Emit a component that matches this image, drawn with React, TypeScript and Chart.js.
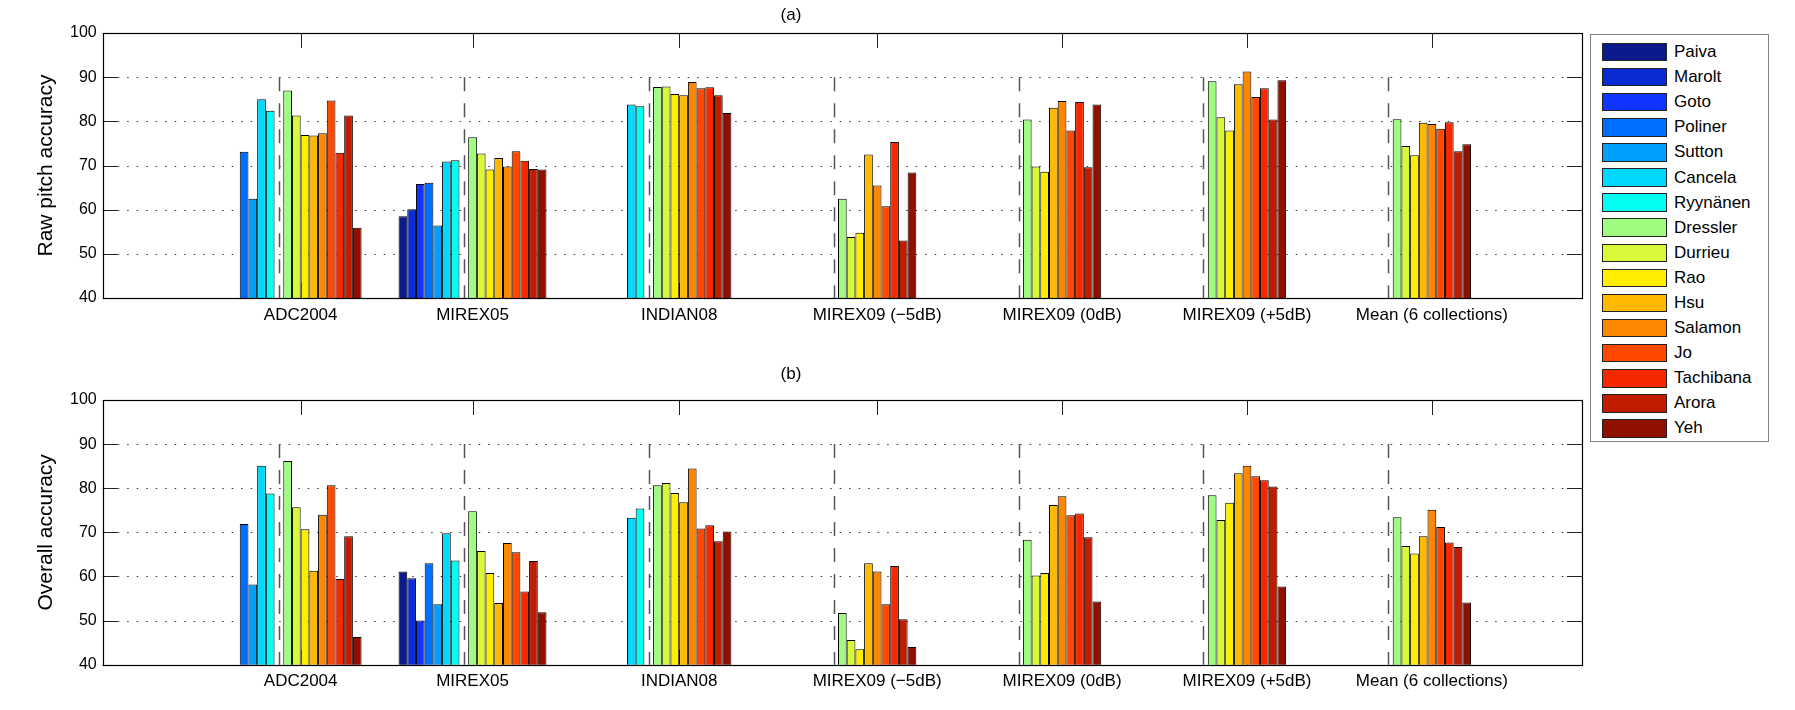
import React, { useEffect, useRef } from "react";
import { Chart, registerables } from "chart.js";

Chart.register(...registerables);
Chart.defaults.font.family = "'Liberation Sans', Arial, Helvetica, sans-serif";
Chart.defaults.color = "#000";

// collections (x groups)
const collections = [
  "ADC2004",
  "MIREX05",
  "INDIAN08",
  "MIREX09 (\u22125dB)",
  "MIREX09 (0dB)",
  "MIREX09 (+5dB)",
  "Mean (6 collections)",
];

const algorithms = [
  "Paiva", "Marolt", "Goto", "Poliner", "Sutton", "Cancela", "Ryynänen",
  "Dressler", "Durrieu", "Rao", "Hsu", "Salamon", "Jo", "Tachibana", "Arora", "Yeh",
];

const algorithmColors = [
  "#0b1b8e", "#0a2ad2", "#1034ff", "#006eff", "#00a0ff", "#00d8ff", "#00fff0",
  "#a0fc80", "#d8f83a", "#ffee00", "#ffba00", "#ff8700", "#ff4800", "#f52800", "#c01c00", "#901000",
];

const yTicks = [40, 50, 60, 70, 80, 90, 100];

// rows follow algorithms, columns follow collections
const rawPitch: (number | null)[][] = [
  [null, 58.5, null, null, null, null, null],
  [null, 60.1, null, null, null, null, null],
  [null, 65.8, null, null, null, null, null],
  [73.1, 66.1, null, null, null, null, null],
  [62.5, 56.4, null, null, null, null, null],
  [85.0, 70.9, 83.8, null, null, null, null],
  [82.4, 71.2, 83.4, null, null, null, null],
  [87.0, 76.4, 87.8, 62.5, 80.4, 89.1, 80.5],
  [81.3, 72.7, 87.9, 53.8, 69.8, 80.9, 74.4],
  [76.9, 69.1, 86.2, 54.8, 68.6, 77.9, 72.3],
  [76.8, 71.7, 85.9, 72.5, 83.1, 88.4, 79.7],
  [77.3, 69.8, 88.9, 65.5, 84.6, 91.3, 79.4],
  [84.7, 73.2, 87.5, 60.8, 77.9, 85.5, 78.3],
  [72.9, 71.1, 87.7, 75.3, 84.4, 87.5, 79.8],
  [81.3, 69.2, 85.9, 53.0, 69.6, 80.4, 73.2],
  [55.9, 69.1, 81.9, 68.4, 83.8, 89.3, 74.8],
];

const overallAccuracy: (number | null)[][] = [
  [null, 61.1, null, null, null, null, null],
  [null, 59.6, null, null, null, null, null],
  [null, 50.0, null, null, null, null, null],
  [71.9, 63.0, null, null, null, null, null],
  [58.2, 53.7, null, null, null, null, null],
  [85.1, 69.8, 73.3, null, null, null, null],
  [78.8, 63.6, 75.4, null, null, null, null],
  [86.2, 74.8, 80.7, 51.7, 68.3, 78.4, 73.4],
  [75.7, 65.8, 81.2, 45.6, 60.2, 72.8, 66.9],
  [70.7, 60.8, 78.9, 43.5, 60.8, 76.7, 65.2],
  [61.3, 54.0, 76.8, 63.0, 76.2, 83.4, 69.1],
  [74.0, 67.6, 84.5, 61.1, 78.2, 85.1, 75.1],
  [80.7, 65.5, 70.9, 53.7, 73.9, 82.7, 71.2],
  [59.4, 56.6, 71.6, 62.4, 74.3, 81.8, 67.7],
  [69.1, 63.5, 68.0, 50.3, 68.9, 80.4, 66.7],
  [46.3, 51.9, 70.2, 44.0, 54.3, 57.7, 54.1],
];

// empty slot between the older and the 2009 algorithms
const GAP = algorithms.indexOf("Dressler");

const pad = (row: (number | null)[]) => [null, ...row, null];

function buildDatasets(values: (number | null)[][]) {
  const ds: any[] = algorithms.map((name, i) => ({
    label: name,
    data: pad(values[i]),
    backgroundColor: algorithmColors[i],
    borderColor: "#000",
    borderWidth: 1,
  }));
  ds.splice(GAP, 0, {
    label: "",
    data: pad(collections.map(() => null)),
    backgroundColor: "transparent",
    borderWidth: 0,
  });
  return ds;
}

function groupCenters(chart: Chart) {
  return collections.map((_, c) => {
    const j = c + 1;
    let lo = Infinity;
    let hi = -Infinity;
    chart.data.datasets.forEach((ds, d) => {
      if (d === GAP || ds.data[j] == null) return;
      const el: any = chart.getDatasetMeta(d).data[j];
      const { x, width } = el.getProps(["x", "width"], true);
      lo = Math.min(lo, x - width / 2);
      hi = Math.max(hi, x + width / 2);
    });
    return (lo + hi) / 2;
  });
}

const TICK = 15;

const framePlugin = {
  id: "frame",
  beforeDatasetsDraw(chart: Chart) {
    const { ctx, chartArea } = chart;
    const { left, right, top, bottom } = chartArea;
    const y = chart.scales.y;
    ctx.save();
    // dotted grid
    ctx.strokeStyle = "#333";
    ctx.lineWidth = 1;
    ctx.setLineDash([1.5, 8]);
    yTicks.slice(1, -1).forEach((v) => {
      const py = Math.round(y.getPixelForValue(v)) + 0.5;
      ctx.beginPath();
      ctx.moveTo(left + TICK, py);
      ctx.lineTo(right - TICK, py);
      ctx.stroke();
    });
    // dashed separators
    ctx.strokeStyle = "#555";
    ctx.lineWidth = 1.5;
    ctx.setLineDash([14, 12]);
    const gapMeta = chart.getDatasetMeta(GAP);
    collections.forEach((_, c) => {
      const el: any = gapMeta.data[c + 1];
      const px = Math.round(el.x) + 0.5;
      ctx.beginPath();
      ctx.moveTo(px, y.getPixelForValue(90));
      ctx.lineTo(px, y.getPixelForValue(40));
      ctx.stroke();
    });
    // ticks
    ctx.setLineDash([]);
    ctx.strokeStyle = "#222";
    ctx.lineWidth = 1;
    yTicks.forEach((v) => {
      const py = Math.round(y.getPixelForValue(v)) + 0.5;
      ctx.beginPath();
      ctx.moveTo(left, py);
      ctx.lineTo(left + TICK, py);
      ctx.moveTo(right, py);
      ctx.lineTo(right - TICK, py);
      ctx.stroke();
    });
    groupCenters(chart).forEach((cx) => {
      const px = Math.round(cx) + 0.5;
      ctx.beginPath();
      ctx.moveTo(px, top);
      ctx.lineTo(px, top + TICK);
      ctx.moveTo(px, bottom);
      ctx.lineTo(px, bottom - TICK);
      ctx.stroke();
    });
    ctx.restore();
  },
  afterDatasetsDraw(chart: Chart) {
    const { ctx, chartArea } = chart;
    const { left, right, top, bottom } = chartArea;
    ctx.save();
    ctx.strokeStyle = "#000";
    ctx.lineWidth = 1.2;
    ctx.strokeRect(Math.round(left) + 0.5, Math.round(top) + 0.5, Math.round(right - left), Math.round(bottom - top));
    ctx.fillStyle = "#000";
    ctx.font = "17px 'Liberation Sans', Arial, sans-serif";
    ctx.textAlign = "center";
    ctx.textBaseline = "middle";
    groupCenters(chart).forEach((cx, c) => {
      ctx.fillText(collections[c], cx, bottom + 17);
    });
    ctx.restore();
  },
};

interface PanelProps {
  title: string;
  yTitle: string;
  values: (number | null)[][];
  top: number;
  height: number;
  titlePad: { top: number; bottom: number };
  xAxisHeight: number;
}

function Panel({ title, yTitle, values, top, height, titlePad, xAxisHeight }: PanelProps) {
  const canvasRef = useRef<HTMLCanvasElement>(null);

  useEffect(() => {
    if (!canvasRef.current) return;
    const chart = new Chart(canvasRef.current, {
      type: "bar",
      data: {
        labels: ["", ...collections, ""],
        datasets: buildDatasets(values),
      },
      options: {
        responsive: false,
        animation: false,
        layout: { padding: { left: 0, right: 213, top: 0, bottom: 0 } },
        datasets: { bar: { categoryPercentage: 0.8, barPercentage: 1 } },
        plugins: {
          legend: { display: false },
          tooltip: { enabled: false },
          title: {
            display: true,
            text: title,
            color: "#000",
            font: { size: 17, weight: "normal" },
            padding: titlePad,
          },
        },
        scales: {
          x: {
            type: "category",
            offset: false,
            grid: { display: false, drawTicks: false },
            border: { display: false },
            ticks: { display: false },
            afterFit: (s: any) => {
              s.height = xAxisHeight;
            },
          },
          y: {
            min: 40,
            max: 100,
            afterBuildTicks: (s: any) => {
              s.ticks = yTicks.map((v) => ({ value: v }));
            },
            ticks: { color: "#000", font: { size: 16 }, padding: 6 },
            grid: { display: false, drawTicks: false },
            border: { display: false },
            title: {
              display: true,
              text: yTitle,
              color: "#000",
              font: { size: 21 },
              padding: { top: 34, bottom: 0 },
            },
            afterFit: (s: any) => {
              s.width = 102.7;
            },
          },
        },
      } as any,
      plugins: [framePlugin],
    });
    return () => chart.destroy();
  }, [title, yTitle, values, titlePad, xAxisHeight]);

  return (
    <canvas
      ref={canvasRef}
      width={1795}
      height={height}
      style={{ position: "absolute", left: 0, top, width: 1795, height }}
    />
  );
}

const TOP_PAD = { top: 4.8, bottom: 7.8 };
const BOTTOM_PAD = { top: 13.8, bottom: 15.8 };

export default function App() {
  return (
    <div
      style={{
        position: "fixed",
        left: 0,
        top: 0,
        width: 1795,
        height: 710,
        background: "#fff",
        fontFamily: "'Liberation Sans', Arial, Helvetica, sans-serif",
      }}
    >
      <Panel
        title="(a)"
        yTitle="Raw pitch accuracy"
        values={rawPitch}
        top={0}
        height={350}
        titlePad={TOP_PAD}
        xAxisHeight={52}
      />
      <Panel
        title="(b)"
        yTitle="Overall accuracy"
        values={overallAccuracy}
        top={350}
        height={360}
        titlePad={BOTTOM_PAD}
        xAxisHeight={45.3}
      />
      <div
        style={{
          position: "absolute",
          left: 1590,
          top: 34,
          width: 179,
          height: 408,
          boxSizing: "border-box",
          border: "1.5px solid #808080",
          background: "#fff",
          paddingTop: 4.5,
        }}
      >
        {algorithms.map((name, i) => (
          <div key={name} style={{ display: "flex", alignItems: "center", height: 25.1 }}>
            <span
              style={{
                display: "inline-block",
                marginLeft: 11,
                width: 65,
                height: 18.5,
                boxSizing: "border-box",
                border: "1px solid #222",
                background: algorithmColors[i],
              }}
            />
            <span style={{ marginLeft: 7, fontSize: 17, color: "#000", lineHeight: "18px" }}>{name}</span>
          </div>
        ))}
      </div>
    </div>
  );
}
